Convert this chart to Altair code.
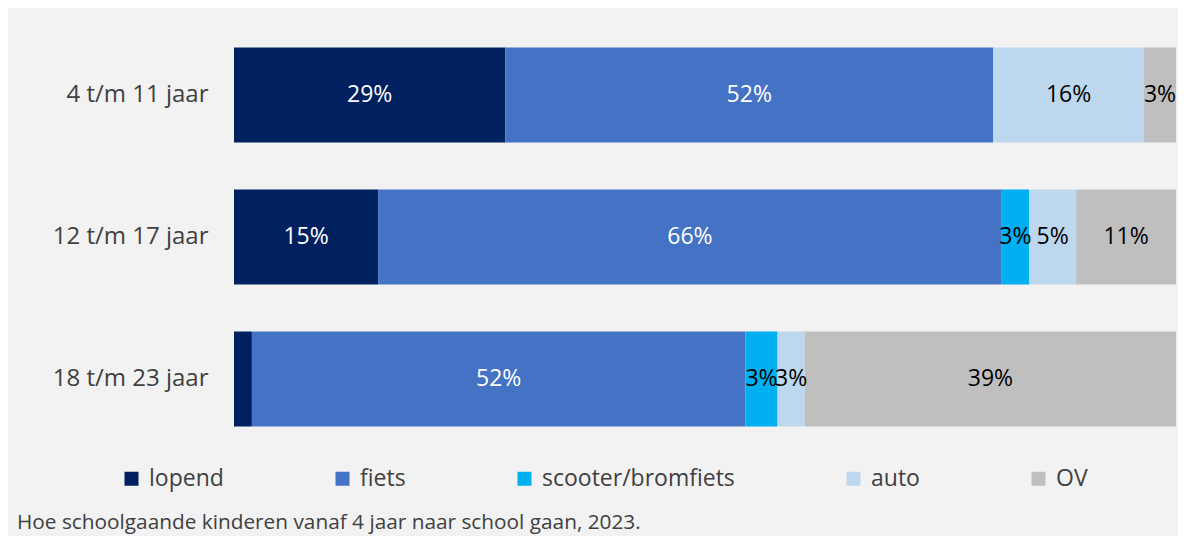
import altair as alt
import pandas as pd

categories = ["4 t/m 11 jaar", "12 t/m 17 jaar", "18 t/m 23 jaar"]
series = ["lopend", "fiets", "scooter/bromfiets", "auto", "OV"]
colors = ["#002060", "#4472C4", "#00B0F0", "#BDD7EE", "#BFBFBF"]
label_colors = ["#FFFFFF", "#FFFFFF", "#000000", "#000000", "#000000"]
# percentages per series, in category order
lopend = [28.8, 15.3, 1.9]
fiets = [51.8, 66.2, 52.4]
scooter = [0.0, 2.9, 3.4]
auto = [16.0, 5.0, 2.9]
ov = [3.4, 10.6, 39.4]
caption = "Hoe schoolgaande kinderen vanaf 4 jaar naar school gaan, 2023."

FONT = "Open Sans"

rows = []
for si, (name, vals) in enumerate(zip(series, [lopend, fiets, scooter, auto, ov])):
    for ci, cat in enumerate(categories):
        rows.append({"cat": cat, "series": name, "order": si, "pct": vals[ci],
                     "lc": label_colors[si]})
df = pd.DataFrame(rows)

base = alt.Chart(df)

y = alt.Y("cat:N", sort=categories, title=None,
          scale=alt.Scale(paddingInner=0.331, paddingOuter=0.165),
          axis=alt.Axis(domain=False, ticks=False, labelFont=FONT, labelFontSize=24,
                        labelColor="#404040", labelPadding=26))

bars = base.mark_bar().encode(
    y=y,
    x=alt.X("pct:Q", stack="zero", scale=alt.Scale(domain=[0, 100], nice=False), axis=None),
    color=alt.Color("series:N", scale=alt.Scale(domain=series, range=colors),
                    legend=alt.Legend(orient="none", legendX=-114, legendY=443,
                                      direction="horizontal", title=None,
                                      columnPadding=107, symbolType="square",
                                      symbolSize=196, symbolStrokeWidth=0,
                                      labelFont=FONT, labelFontSize=23, labelLimit=400,
                                      labelColor="#404040", labelOffset=6, padding=0)),
    order=alt.Order("order:Q"),
)

labels = base.transform_window(
    cum="sum(pct)", groupby=["cat"], sort=[alt.SortField("order")]
).transform_calculate(
    mid="datum.cum - datum.pct / 2",
    txt="format(datum.pct, '.0f') + '%'",
).transform_filter("datum.pct >= 2.5").mark_text(
    font=FONT, fontSize=23, baseline="middle", align="center"
).encode(
    y=alt.Y("cat:N", sort=categories),
    x=alt.X("mid:Q"),
    text="txt:N",
    color=alt.Color("lc:N", scale=None),
)

cap = alt.Chart(pd.DataFrame({"t": [caption]})).mark_text(
    font=FONT, fontSize=20.8, align="left", baseline="middle", color="#404040"
).encode(x=alt.value(-217), y=alt.value(499), text="t:N")

chart = alt.layer(bars, labels, cap).properties(
    width=942, height=426,
    padding={"left": 226, "top": 16, "right": 2, "bottom": 86},
    autosize=alt.AutoSizeParams(type="none"),
    background="#f2f2f2",
).configure_view(stroke=None)

chart.save("out.html", embed_options={"renderer": "svg", "actions": False})
